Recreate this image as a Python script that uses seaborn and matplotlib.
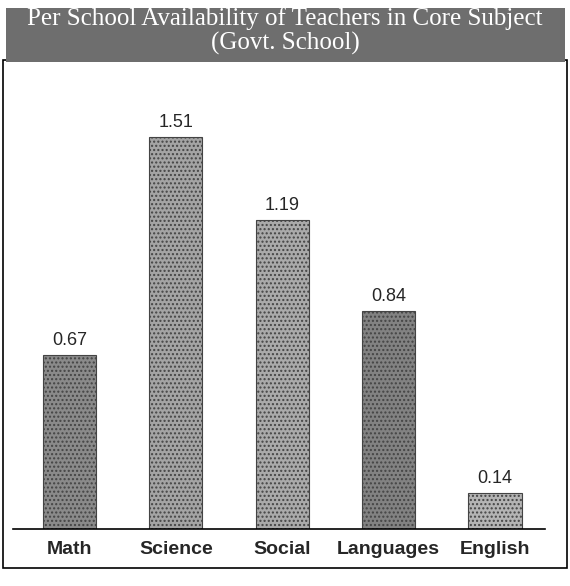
import pandas as pd
import seaborn as sns
import matplotlib.pyplot as plt
from matplotlib.patches import Rectangle

subjects = ['Math', 'Science', 'Social', 'Languages', 'English']
teachers = [0.67, 1.51, 1.19, 0.84, 0.14]
bar_colors = ['#8a8a8a', '#a4a4a4', '#aaaaaa', '#828282', '#b4b4b4']

df = pd.DataFrame({'Subject': subjects, 'Teachers': teachers})

sns.set_style('white')
plt.rcParams['font.family'] = ['Liberation Sans', 'DejaVu Sans']
plt.rcParams['hatch.color'] = '#505050'

fig = plt.figure(figsize=(5.7, 5.86), dpi=100)
ax = fig.add_axes([13 / 570, 57 / 586, 532 / 570, 439 / 586])

sns.barplot(data=df, x='Subject', y='Teachers', hue='Subject', palette=bar_colors,
            legend=False, width=0.5, ax=ax, edgecolor='#444444', linewidth=0.8)
for bar in ax.patches:
    bar.set_hatch('....')

for c in ax.containers:
    ax.bar_label(c, fmt='%.2f', padding=4, fontsize=13)

ax.set_xlim(-0.53, 4.47)
ax.set_ylim(0, 1.69)
ax.set_xlabel('')
ax.set_ylabel('')
ax.set_yticks([])
ax.tick_params(axis='x', length=0, labelsize=14, pad=9)
for lbl in ax.get_xticklabels():
    lbl.set_fontweight('bold')
for s in ['top', 'left', 'right']:
    ax.spines[s].set_visible(False)
ax.spines['bottom'].set_color('black')
ax.spines['bottom'].set_linewidth(1.2)

# outer frame
fig.patches.append(Rectangle((3 / 570, 18 / 586), 564 / 570, 508 / 586, transform=fig.transFigure,
                             fill=False, edgecolor='black', linewidth=1.2))
# title band
fig.patches.append(Rectangle((6 / 570, 524 / 586), 559 / 570, 54 / 586, transform=fig.transFigure,
                             facecolor='#6e6e6e', edgecolor='none'))
fig.text(0.5, 567 / 586, 'Per School Availability of Teachers in Core Subject',
         ha='center', va='center', color='white', fontsize=18,
         family=['Liberation Serif', 'DejaVu Serif'])
fig.text(0.5, 543 / 586, '(Govt. School)', ha='center', va='center', color='white',
         fontsize=18, family=['Liberation Serif', 'DejaVu Serif'])

fig.savefig('out.png', dpi=100)
